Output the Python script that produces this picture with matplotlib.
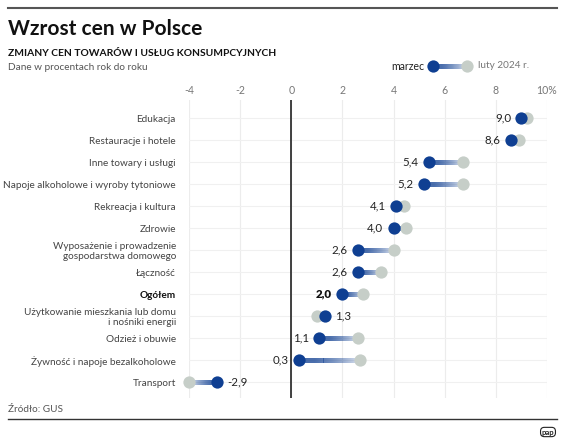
import numpy as np
import matplotlib.pyplot as plt
from matplotlib.collections import LineCollection
from matplotlib.colors import to_rgb

plt.rcParams['font.family'] = ['Lato', 'DejaVu Sans']

# dane
categories = ["Edukacja", "Restauracje i hotele", "Inne towary i usługi",
              "Napoje alkoholowe i wyroby tytoniowe", "Rekreacja i kultura", "Zdrowie",
              "Wyposażenie i prowadzenie\ngospodarstwa domowego", "Łączność", "Ogółem",
              "Użytkowanie mieszkania lub domu\ni nośniki energii", "Odzież i obuwie",
              "Żywność i napoje bezalkoholowe", "Transport"]
marzec = [9.0, 8.6, 5.4, 5.2, 4.1, 4.0, 2.6, 2.6, 2.0, 1.3, 1.1, 0.3, -2.9]
luty = [9.2, 8.9, 6.7, 6.7, 4.4, 4.5, 4.0, 3.5, 2.8, 1.0, 2.6, 2.7, -4.0]
ticks = [-4, -2, 0, 2, 4, 6, 8, 10]
tick_labels = ["-4", "-2", "0", "2", "4", "6", "8", "10%"]

BLUE = "#0f3f92"
GREY = "#c6cec8"
W, H = 564, 441

fig = plt.figure(figsize=(W / 100, H / 100), dpi=100)
ax = fig.add_axes([189 / W, 43 / H, 358 / W, 298 / H])
ax.set_xlim(-4, 10)
ax.set_ylim(12.71, -0.83)

for t in ticks:
    ax.axvline(t, color="#ececec", lw=0.8, zorder=0)
for i in range(len(categories)):
    ax.axhline(i, color="#f0f0f0", lw=0.8, zorder=0)
ax.axvline(0, color="#222222", lw=1.2, zorder=1)


# linia z gradientem od marca do lutego
def fade_alpha(n):
    tt = np.linspace(0, 1, n)
    return np.clip(1.0 - np.maximum(tt - 0.25, 0) / 0.75 * 0.85, 0.15, 1)


def gradient(a, x0, x1, y, n=60):
    xs = np.linspace(x0, x1, n + 1)
    segs = [[(xs[k], y), (xs[k + 1], y)] for k in range(n)]
    r, g, b = to_rgb(BLUE)
    cols = [(r, g, b, al) for al in fade_alpha(n)]
    a.add_collection(LineCollection(segs, colors=cols, linewidths=3.6, zorder=2,
                                    capstyle="butt"))


for i, (m, l) in enumerate(zip(marzec, luty)):
    gradient(ax, m, l, i)
ax.scatter(luty, range(len(luty)), s=78, color=GREY, zorder=3, linewidths=0, clip_on=False)
ax.scatter(marzec, range(len(marzec)), s=78, color=BLUE, zorder=4, linewidths=0, clip_on=False)

for i, (m, l) in enumerate(zip(marzec, luty)):
    txt = f"{m:.1f}".replace(".", ",")
    bold = categories[i] == "Ogółem"
    left = m <= l
    ax.annotate(txt, (m, i), xytext=(-7.5 if left else 7.5, 0), textcoords="offset points",
                ha="right" if left else "left", va="center", fontsize=8.3,
                color="#111111" if bold else "#222222",
                fontweight="heavy" if bold else "normal")

ax.set_yticks(range(len(categories)))
ax.set_yticklabels(categories, fontsize=7.2, color="#444444", linespacing=1.1,
                   multialignment="right")
for lab in ax.get_yticklabels():
    if lab.get_text() == "Ogółem":
        lab.set_fontweight("bold")
        lab.set_color("#111111")
ax.tick_params(axis="y", length=0, pad=9.4)
ax.set_xticks(ticks)
ax.set_xticklabels(tick_labels, fontsize=7.6, color="#777777")
ax.xaxis.tick_top()
ax.tick_params(axis="x", length=0, pad=3)
for s in ax.spines.values():
    s.set_visible(False)

# naglowki
fig.add_artist(plt.Line2D([8 / W, 557 / W], [1 - 8 / H, 1 - 8 / H], color="#555555", lw=1.5))
fig.text(8 / W, 1 - 29 / H, "Wzrost cen w Polsce", fontsize=15, fontweight="bold",
         color="#111111", va="center")
fig.text(8 / W, 1 - 53 / H, "ZMIANY CEN TOWARÓW I USŁUG KONSUMPCYJNYCH", fontsize=7.4,
         fontweight="bold", color="#111111", va="center")
fig.text(8 / W, 1 - 68 / H, "Dane w procentach rok do roku", fontsize=7.2,
         color="#555555", va="center")

# legenda
lax = fig.add_axes([0, 0, 1, 1], facecolor="none")
lax.set_xlim(0, W)
lax.set_ylim(H, 0)
lax.axis("off")
gradient(lax, 433, 467, 66, n=40)
lax.scatter([467], [66], s=78, color=GREY, linewidths=0, zorder=3)
lax.scatter([433], [66], s=78, color=BLUE, linewidths=0, zorder=4)
lax.text(424, 66, "marzec", ha="right", va="center", fontsize=7.6, color="#222222")
lax.text(478, 66, "luty 2024 r.", ha="left", va="center", fontsize=7.2, color="#777777")

# stopka
fig.text(8 / W, 1 - 409 / H, "Źródło: GUS", fontsize=7.2, color="#555555", va="center")
fig.add_artist(plt.Line2D([8 / W, 557 / W], [1 - 419 / H, 1 - 419 / H], color="#333333", lw=1.0))
fig.text(548 / W, 1 - 432 / H, "pap", fontsize=5.5, fontweight="bold", color="#222222",
         ha="center", va="center",
         bbox=dict(boxstyle="round,pad=0.15,rounding_size=0.5", fc="white", ec="#222222", lw=0.8))

fig.savefig("out.png", dpi=100, facecolor="white")
